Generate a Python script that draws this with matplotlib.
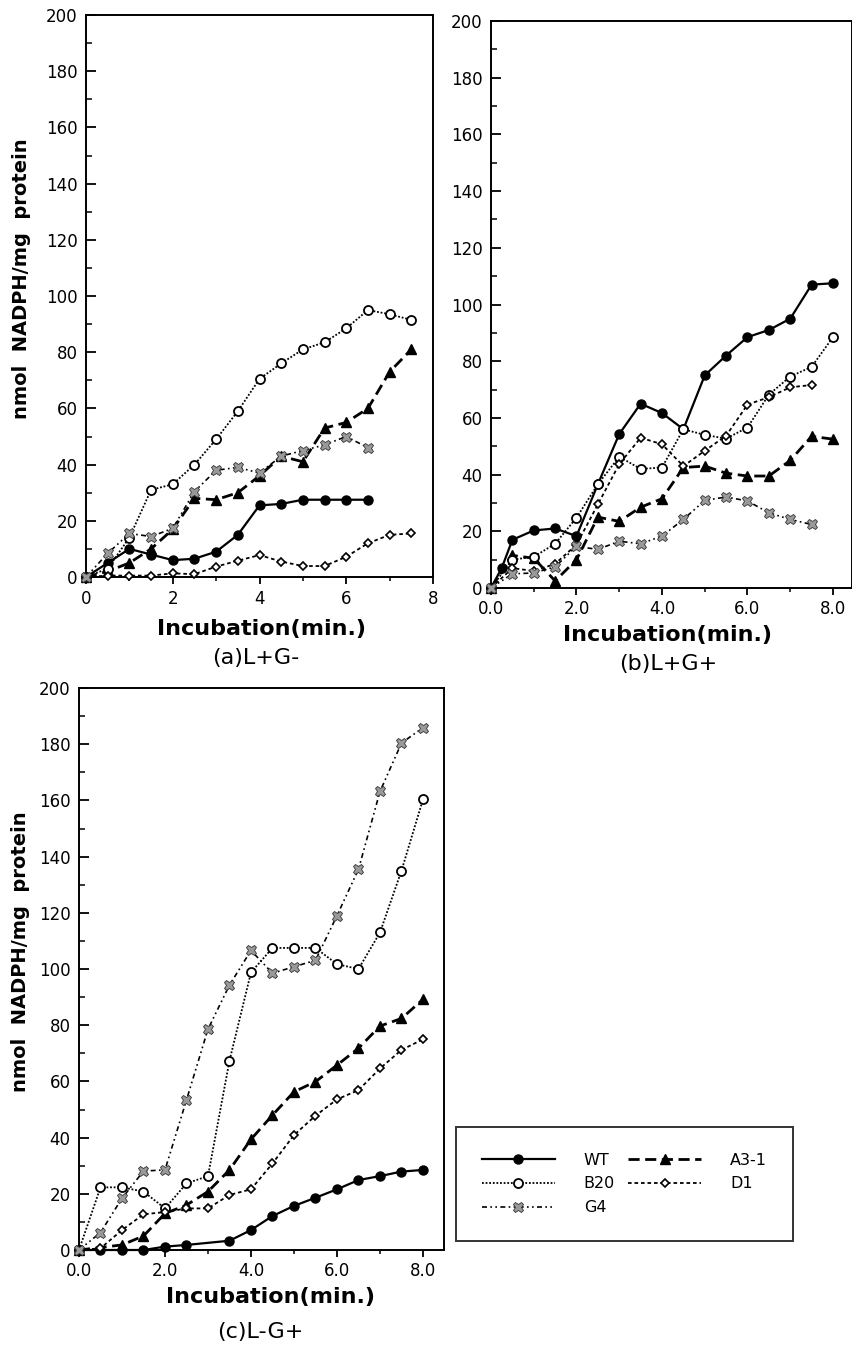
import matplotlib
matplotlib.use("Agg")
import matplotlib.pyplot as plt
from matplotlib.ticker import MultipleLocator, FixedLocator

plt.rcParams['font.family'] = ['DejaVu Sans']

# ---- data (nmol NADPH / mg protein vs incubation time, min) ----
t_full = [0, 0.5, 1, 1.5, 2, 2.5, 3, 3.5, 4, 4.5, 5, 5.5, 6, 6.5, 7, 7.5, 8]
t_75 = t_full[:16]
t_65 = t_full[:14]

# (a) L+G-
a_wt = [0, 5, 10, 8, 6, 6.5, 9, 15, 25.5, 26, 27.5, 27.5, 27.5, 27.5]
a_a31 = [0, 2, 5, 10, 17, 28, 27.5, 30, 36, 43, 41, 53, 55, 60, 73, 81]
a_b20 = [0, 3, 14, 31, 33, 40, 49, 59, 70.5, 76, 81, 83.5, 88.5, 95, 93.5, 91.5]
a_d1 = [0, 0.5, 0.5, 0.5, 1.3, 1, 3.7, 5.8, 7.8, 5.5, 3.9, 3.9, 7.2, 12, 15, 15.5]
a_g4 = [0, 8.4, 15.5, 14.4, 17.3, 30.4, 38, 39, 37, 43, 45, 47, 50, 46]

# (b) L+G+
b_wt_t = [0, 0.25, 0.5, 1, 1.5, 2, 2.5, 3, 3.5, 4, 4.5, 5, 5.5, 6, 6.5, 7, 7.5, 8]
b_wt = [0, 7, 17, 20.3, 21, 18.3, 36.6, 54.3, 65, 61.7, 56, 75, 82, 88.5, 91, 95, 107, 107.5]
b_a31 = [0, 11.5, 10.5, 2.5, 10, 25, 23.5, 28.5, 31.5, 42.5, 43, 40.5, 39.5, 39.5, 45, 53.5, 52.5]
b_b20 = [0, 10, 11, 15.6, 24.8, 36.6, 46.3, 42, 42.5, 56, 54, 52.7, 56.6, 68.2, 74.6, 78, 88.5]
b_d1 = [0, 7, 6, 8.5, 15.3, 29.5, 43.7, 53, 50.7, 43, 48.4, 53.7, 64.7, 67.3, 70.8, 71.6]
b_g4 = [0, 5, 5.3, 7.5, 14.7, 13.6, 16.5, 15.6, 18.3, 24.2, 30.9, 32.1, 30.7, 26.5, 24.2, 22.4]

# (c) L-G+
c_wt_t = [0, 0.5, 1, 1.5, 2, 2.5, 3.5, 4, 4.5, 5, 5.5, 6, 6.5, 7, 7.5, 8]
c_wt = [0, 0, 0, 0, 1.2, 1.8, 3.3, 7.1, 12.1, 15.7, 18.6, 21.6, 24.9, 26.3, 27.9, 28.5]
c_a31_t = [0, 1, 1.5, 2, 2.5, 3, 3.5, 4, 4.5, 5, 5.5, 6, 6.5, 7, 7.5, 8]
c_a31 = [0, 1.8, 5, 13, 16, 20.8, 28.5, 39.4, 48, 56.3, 59.9, 65.8, 71.8, 79.7, 82.4, 89.2]
c_b20 = [0, 22.3, 22.3, 20.8, 14.8, 23.7, 26.3, 67.4, 98.8, 107.5, 107.5, 107.5, 101.7, 100, 113, 135, 160.4]
c_d1 = [0, 0.6, 7.1, 12.7, 13.5, 14.8, 14.8, 19.6, 21.6, 30.8, 40.9, 47.8, 53.6, 56.9, 64.6, 71.2, 75]
c_g4 = [0, 6.2, 18.4, 28.1, 28.5, 53.4, 78.6, 94.3, 106.6, 98.5, 100.8, 103.1, 119, 135.5, 163.2, 180.4, 185.9]

strains = ["WT", "A3-1", "B20", "D1", "G4"]

# ---- styles ----
STYLE = {
    "WT": dict(ls="-", lw=1.6, marker="o", ms=6.5, mfc="black", mec="black"),
    "A3-1": dict(ls=(0, (4, 2)), lw=2.0, marker="^", ms=7, mfc="black", mec="black"),
    "B20": dict(ls=(0, (1, 1)), lw=1.3, marker="o", ms=6.5, mfc="white", mec="black", mew=1.3),
    "D1": dict(ls=(0, (2, 1.6)), lw=1.3, marker="D", ms=4.5, mfc="white", mec="black", mew=1.2),
    "G4": dict(ls=(0, (3, 2, 1, 2, 1, 2)), lw=1.2, marker="X", ms=7.5, mfc="0.6", mec="0.2", mew=0.6),
}

W, H = 853, 1347
fig = plt.figure(figsize=(W / 100, H / 100), dpi=100)


def rect(left, top, right, bottom):
    return [left / W, 1 - bottom / H, (right - left) / W, (bottom - top) / H]


def style_axes(ax, xmax, xticklabels):
    ax.set_xlim(0, xmax)
    ax.set_ylim(0, 200)
    ax.xaxis.set_major_locator(FixedLocator([0, 2, 4, 6, 8]))
    ax.xaxis.set_minor_locator(FixedLocator([1, 3, 5, 7]))
    ax.set_xticklabels(xticklabels)
    ax.yaxis.set_major_locator(MultipleLocator(20))
    ax.yaxis.set_minor_locator(MultipleLocator(10))
    ax.tick_params(axis="y", which="major", direction="in", length=7, width=1.3,
                   labelsize=12, pad=6)
    ax.tick_params(axis="y", which="minor", direction="in", length=4, width=1.1)
    ax.tick_params(axis="x", which="major", direction="out", length=5, width=1.3,
                   labelsize=12, pad=4)
    ax.tick_params(axis="x", which="minor", direction="out", length=3, width=1.1)
    for s in ax.spines.values():
        s.set_linewidth(1.4)


def draw(ax, series):
    for name, t, y in series:
        st = STYLE[name]
        ax.plot(t, y, color="black", linestyle=st["ls"], linewidth=st["lw"],
                marker=st["marker"], markersize=st["ms"], markerfacecolor=st["mfc"],
                markeredgecolor=st["mec"], markeredgewidth=st.get("mew", 1.0),
                label=name, clip_on=False, zorder=3)


def labels(ax, cap, xlab_xy, cap_xy, ylab_xy=None):
    ax.set_xlabel("Incubation(min.)", fontsize=16, fontweight="bold")
    ax.xaxis.set_label_coords(*xlab_xy)
    ax.xaxis.label.set_verticalalignment("center")
    ax.text(cap_xy[0], cap_xy[1], cap, transform=ax.transAxes, fontsize=16,
            ha="center", va="center")
    if ylab_xy is not None:
        ax.set_ylabel("nmol  NADPH/mg  protein", fontsize=14, fontweight="bold")
        ax.yaxis.set_label_coords(*ylab_xy)
        ax.yaxis.label.set_verticalalignment("center")


# (a)
ax_a = fig.add_axes(rect(86, 15, 433, 577))
style_axes(ax_a, 8, ["0", "2", "4", "6", "8"])
draw(ax_a, [("WT", t_65, a_wt), ("A3-1", t_75, a_a31), ("B20", t_75, a_b20),
            ("D1", t_75, a_d1), ("G4", t_65, a_g4)])
labels(ax_a, "(a)L+G-", (0.507, -0.0925), (0.49, -0.144), (-0.187, 0.53))

# (b)
ax_b = fig.add_axes(rect(491, 21, 852, 588))
style_axes(ax_b, 361 / 42.75, ["0.0", "2.0", "4.0", "6.0", "8.0"])
draw(ax_b, [("WT", b_wt_t, b_wt), ("A3-1", t_full, b_a31), ("B20", t_full, b_b20),
            ("D1", t_75, b_d1), ("G4", t_75, b_g4)])
labels(ax_b, "(b)L+G+", (0.49, -0.083), (0.49, -0.134))

# (c)
ax_c = fig.add_axes(rect(79, 688, 444, 1250))
style_axes(ax_c, 365 / 43.0, ["0.0", "2.0", "4.0", "6.0", "8.0"])
draw(ax_c, [("WT", c_wt_t, c_wt), ("A3-1", c_a31_t, c_a31), ("B20", t_full, c_b20),
            ("D1", t_full, c_d1), ("G4", t_full, c_g4)])
labels(ax_c, "(c)L-G+", (0.526, -0.0836), (0.496, -0.146), (-0.159, 0.53))

# legend (column-wise order: WT, B20, G4 | A3-1, D1)
handles, labs = ax_c.get_legend_handles_labels()
order = [labs.index(n) for n in ["WT", "B20", "G4", "A3-1", "D1"]]
leg = fig.legend([handles[i] for i in order], [labs[i] for i in order],
                 loc="upper left", bbox_to_anchor=(456 / W, 1 - 1127 / H),
                 borderaxespad=0, ncol=2, fontsize=11.5, frameon=True, fancybox=False,
                 edgecolor="black", handlelength=4.6, handletextpad=1.8,
                 columnspacing=0.8, borderpad=1.6, labelspacing=0.55, numpoints=1)
leg.get_frame().set_linewidth(1.4)

fig.savefig("out.png", dpi=100)
